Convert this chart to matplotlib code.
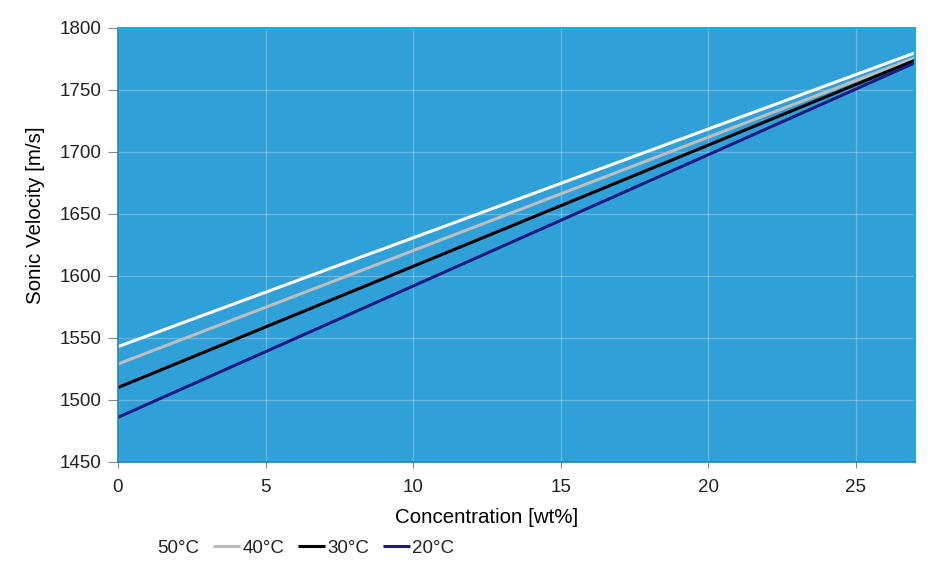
import matplotlib
matplotlib.use("Agg")
import matplotlib.pyplot as plt

conc = [0, 27]
labels = ["50°C", "40°C", "30°C", "20°C"]
v50 = [1543, 1780]
v40 = [1529, 1776]
v30 = [1510, 1774]
v20 = [1486, 1772]
series = [v50, v40, v30, v20]
colors = ["#ffffff", "#bdbdbd", "#000000", "#1c1a80"]

plt.rcParams['font.family'] = ['Liberation Sans', 'DejaVu Sans']

fig = plt.figure(figsize=(9.34, 5.70), dpi=100)
ax = fig.add_axes([0.1263, 0.1895, 0.8534, 0.7614])
ax.set_facecolor("#2fa0d8")

for vals, c, lab in zip(series, colors, labels):
    ax.plot(conc, vals, color=c, lw=2.2, label=lab, solid_capstyle='butt')

ax.set_xlim(0, 27)
ax.set_ylim(1450, 1800)
ax.set_xticks([0, 5, 10, 15, 20, 25])
ax.set_yticks(range(1450, 1801, 50))
ax.grid(True, color="#ffffff", alpha=0.25, lw=1)
ax.set_axisbelow(True)

for s in ["left", "bottom"]:
    ax.spines[s].set_color("#1885bd")
    ax.spines[s].set_linewidth(1.2)
ax.spines["top"].set_color("#12b0e8")
ax.spines["top"].set_linewidth(1.5)
ax.spines["right"].set_color("#12b0e8")
ax.spines["right"].set_linewidth(1.5)

ax.tick_params(axis='y', length=7, color="#888888", labelsize=13.5, pad=5, labelcolor="#222222")
ax.tick_params(axis='x', length=4, color="#888888", labelsize=13.5, pad=8, labelcolor="#222222")

ax.set_xlabel("Concentration [wt%]", fontsize=14.8, va="center", ha="center")
ax.xaxis.set_label_coords(0.463, -0.129)
ax.set_ylabel("Sonic Velocity [m/s]", fontsize=14.8, va="center", ha="center")
ax.yaxis.set_label_coords(-0.103, 0.568)

leg = fig.legend(loc="center left", bbox_to_anchor=(0.137, 0.038), ncol=4, frameon=False,
                 fontsize=13.5, handlelength=1.45, handletextpad=0.1, columnspacing=0.75,
                 labelcolor="#222222", borderaxespad=0, borderpad=0)

fig.savefig("out.png", dpi=100, facecolor="white")
